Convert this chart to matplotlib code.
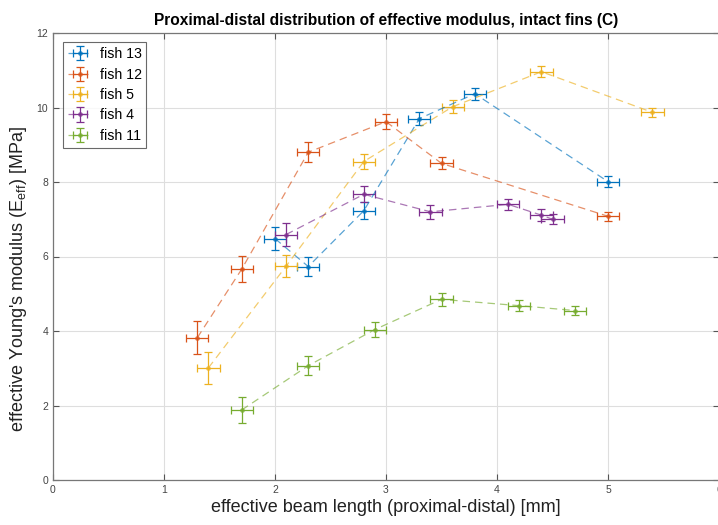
#!/usr/bin/env python3

import matplotlib
matplotlib.use('Agg')
import matplotlib.pyplot as plt

plt.rcParams['font.family'] = ['Liberation Sans', 'DejaVu Sans']
plt.rcParams['mathtext.default'] = 'regular'

# fish 13
x13    = [2.0, 2.3, 2.8, 3.3, 3.8, 5.0]
y13    = [6.48, 5.73, 7.23, 9.70, 10.37, 8.01]
yerr13 = [0.30, 0.25, 0.23, 0.18, 0.16, 0.15]

# fish 12
x12    = [1.3, 1.7, 2.3, 3.0, 3.5, 5.0]
y12    = [3.82, 5.66, 8.80, 9.62, 8.50, 7.08]
yerr12 = [0.45, 0.35, 0.27, 0.20, 0.16, 0.12]

# fish 5
x5    = [1.4, 2.1, 2.8, 3.6, 4.4, 5.4]
y5    = [3.01, 5.74, 8.55, 10.02, 10.96, 9.87]
yerr5 = [0.42, 0.30, 0.21, 0.17, 0.15, 0.13]

# fish 4
x4    = [2.1, 2.8, 3.4, 4.1, 4.4, 4.5]
y4    = [6.59, 7.67, 7.20, 7.40, 7.11, 7.00]
yerr4 = [0.30, 0.22, 0.18, 0.15, 0.16, 0.14]

# fish 11
x11    = [1.7, 2.3, 2.9, 3.5, 4.2, 4.7]
y11    = [1.88, 3.07, 4.04, 4.85, 4.68, 4.55]
yerr11 = [0.35, 0.25, 0.20, 0.18, 0.15, 0.13]

xerr = 0.1

series = [
    ('fish 13', x13, y13, yerr13, '#0072BD'),
    ('fish 12', x12, y12, yerr12, '#D95319'),
    ('fish 5',  x5,  y5,  yerr5,  '#EDB120'),
    ('fish 4',  x4,  y4,  yerr4,  '#7E2F8E'),
    ('fish 11', x11, y11, yerr11, '#77AC30'),
]

fig = plt.figure(figsize=(7.18, 5.25), dpi=100)
hax = fig.add_axes([53/718, 1 - 480/525, (719 - 53)/718, (480 - 33)/525])

for label, x, y, yerr, col in series:
    hax.errorbar(x, y, yerr=yerr, xerr=xerr, fmt='.--', color=col,
                 markersize=5, linewidth=0.9, elinewidth=0.9,
                 capsize=2.8, capthick=0.9, dashes=(6, 4), label=label)

# dashed connectors look paler than the error bars
for ln in hax.get_lines():
    if ln.get_linestyle() == '--':
        ln.set_alpha(0.65)

hax.set_xlim(0, 6)
hax.set_ylim(0, 12)
hax.set_xticks(range(0, 7))
hax.set_yticks(range(0, 13, 2))
hax.grid(True, color='#dedede', linewidth=0.8)
hax.set_axisbelow(True)
hax.tick_params(direction='in', top=True, right=True, length=4,
                labelsize=7.5, colors='#555555', labelcolor='#444444')
for sp in hax.spines.values():
    sp.set_color('#777777')
    sp.set_linewidth(0.9)

hax.set_title('Proximal-distal distribution of effective modulus, intact fins (C)',
              fontsize=11.2, fontweight='bold', pad=6)
hax.set_xlabel('effective beam length (proximal-distal) [mm]', fontsize=13, color='#222222',
               labelpad=3)
hax.set_ylabel("effective Young's modulus (E$_{eff}$) [MPa]", fontsize=13, color='#222222')
hax.yaxis.set_label_coords(-0.036, 0.45)

leg = hax.legend(loc='upper left', fontsize=10.2, frameon=True, fancybox=False,
                 edgecolor='#444444', borderpad=0.35, handlelength=1.7,
                 handletextpad=0.5, labelspacing=0.45,
                 bbox_to_anchor=(0.005, 0.995))
leg.get_frame().set_linewidth(0.8)

fig.savefig('out.png', dpi=100)
